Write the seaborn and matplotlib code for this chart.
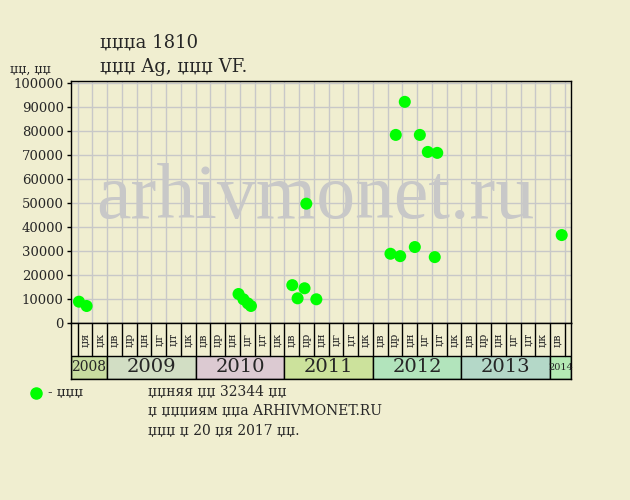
import matplotlib
matplotlib.use('Agg')
import matplotlib.pyplot as plt
import seaborn as sns
import pandas as pd
from matplotlib.patches import Rectangle
from matplotlib.lines import Line2D
from matplotlib.ticker import FuncFormatter

sns.set_style('white')
plt.rcParams['font.family'] = ['DejaVu Serif', 'DejaVu Sans']

# positions in bi-monthly columns (0 = first column edge), price in roubles
x_pos = [0.09, 0.61, 10.9, 11.23, 11.53, 11.74, 14.54, 14.9, 15.37, 15.49, 16.17,
         21.19, 21.55, 21.85, 22.16, 22.84, 23.18, 23.72, 24.19, 24.36, 32.79]
prices = [8900, 7100, 12100, 9900, 8200, 7100, 15800, 10300, 14500, 49800, 9900,
          28900, 78500, 27900, 92300, 31700, 78500, 71400, 27500, 71000, 36700]

years = ['2008', '2009', '2010', '2011', '2012', '2013', '2014']
year_cols = [2, 6, 6, 6, 6, 6, 1]
year_colors = ['#c8dca0', '#d2dec4', '#dccad2', '#cce29c', '#b2e4bc', '#b4d8c8', '#b4eab4']
year_sizes = [10, 14, 14, 14, 14, 14, 7]
months = ['џя', 'џк'] + ['џв', 'џр', 'џн', 'џг', 'џт', 'џк'] * 5 + ['џв']

df = pd.DataFrame({'x': x_pos, 'price': prices})

bg = '#f0eed0'
n_cols = len(months)
x_lo, x_hi = -0.47, n_cols + 0.4

fig = plt.figure(figsize=(6.3, 5), dpi=100, facecolor=bg)
ax = fig.add_axes([0.1122, 0.354, 0.7937, 0.484], facecolor=bg)

for i in range(n_cols + 1):
    ax.axvline(i, color='#c8c8c8', lw=1, zorder=1)
for v in range(10000, 100001, 10000):
    ax.axhline(v, color='#c8c8c8', lw=1, zorder=1)

ax.text(16.1, 51500, 'arhivmonet.ru', fontsize=56, color='#c8c8c8',
        family='Liberation Serif', ha='center', va='center', zorder=2)

sns.scatterplot(data=df, x='x', y='price', color='#00ff00', s=75,
                edgecolor='none', zorder=3, ax=ax, legend=False)

ax.set_xlim(x_lo, x_hi)
ax.set_ylim(0, 101000)
ax.set_yticks(range(0, 100001, 10000))
ax.yaxis.set_major_formatter(FuncFormatter(lambda v, p: f'{int(v)}'))
ax.set_xticks([])
ax.tick_params(axis='y', length=3, width=1, color='black', labelsize=9.5, pad=2, left=True)
ax.set_xlabel('')
ax.set_ylabel('')
for sp in ax.spines.values():
    sp.set_color('black')
    sp.set_linewidth(1)

# month / year strip under the plot
strip = fig.add_axes([0.1122, 0.242, 0.7937, 0.112], facecolor=bg)
strip.set_xlim(x_lo, x_hi)
strip.set_ylim(0, 1)
split = 0.416
start = 0
for yr, nc, col, fs in zip(years, year_cols, year_colors, year_sizes):
    left = x_lo if start == 0 else start
    right = x_hi if start + nc == n_cols else start + nc
    strip.add_patch(Rectangle((left, 0), right - left, split, facecolor=col,
                              edgecolor='black', lw=1))
    strip.text((left + right) / 2, split / 2, yr, ha='center', va='center', fontsize=fs)
    start += nc
for i in range(n_cols + 1):
    strip.plot([i, i], [split, 1], color='black', lw=1)
for i, m in enumerate(months):
    strip.text(i + 0.5, 0.7, m, rotation=90, ha='center', va='center', fontsize=8)
strip.set_xticks([])
strip.set_yticks([])
for sp in strip.spines.values():
    sp.set_color('black')
    sp.set_linewidth(1)

# titles and notes
fig.text(100 / 630, 1 - 43 / 500, 'џџџа 1810', fontsize=13, va='center')
fig.text(100 / 630, 1 - 67 / 500, 'џџџ Ag, џџџ VF.', fontsize=13, va='center')
fig.text(10 / 630, 1 - 69 / 500, 'џџ, џџ', fontsize=9, va='center')

fig.add_artist(Line2D([36 / 630], [1 - 393 / 500], marker='o', markersize=8,
                      color='#00ff00', linestyle='none', transform=fig.transFigure))
fig.text(48 / 630, 1 - 392 / 500, '- џџџ', fontsize=9.5, va='center')
fig.text(148 / 630, 1 - 392 / 500, 'џџняя џџ 32344 џџ', fontsize=10, va='center')
fig.text(148 / 630, 1 - 411 / 500, 'џ џџџиям џџа ARHIVMONET.RU', fontsize=10, va='center')
fig.text(148 / 630, 1 - 431 / 500, 'џџџ џ 20 џя 2017 џџ.', fontsize=10, va='center')

fig.savefig('out.png', dpi=100, facecolor=bg)
